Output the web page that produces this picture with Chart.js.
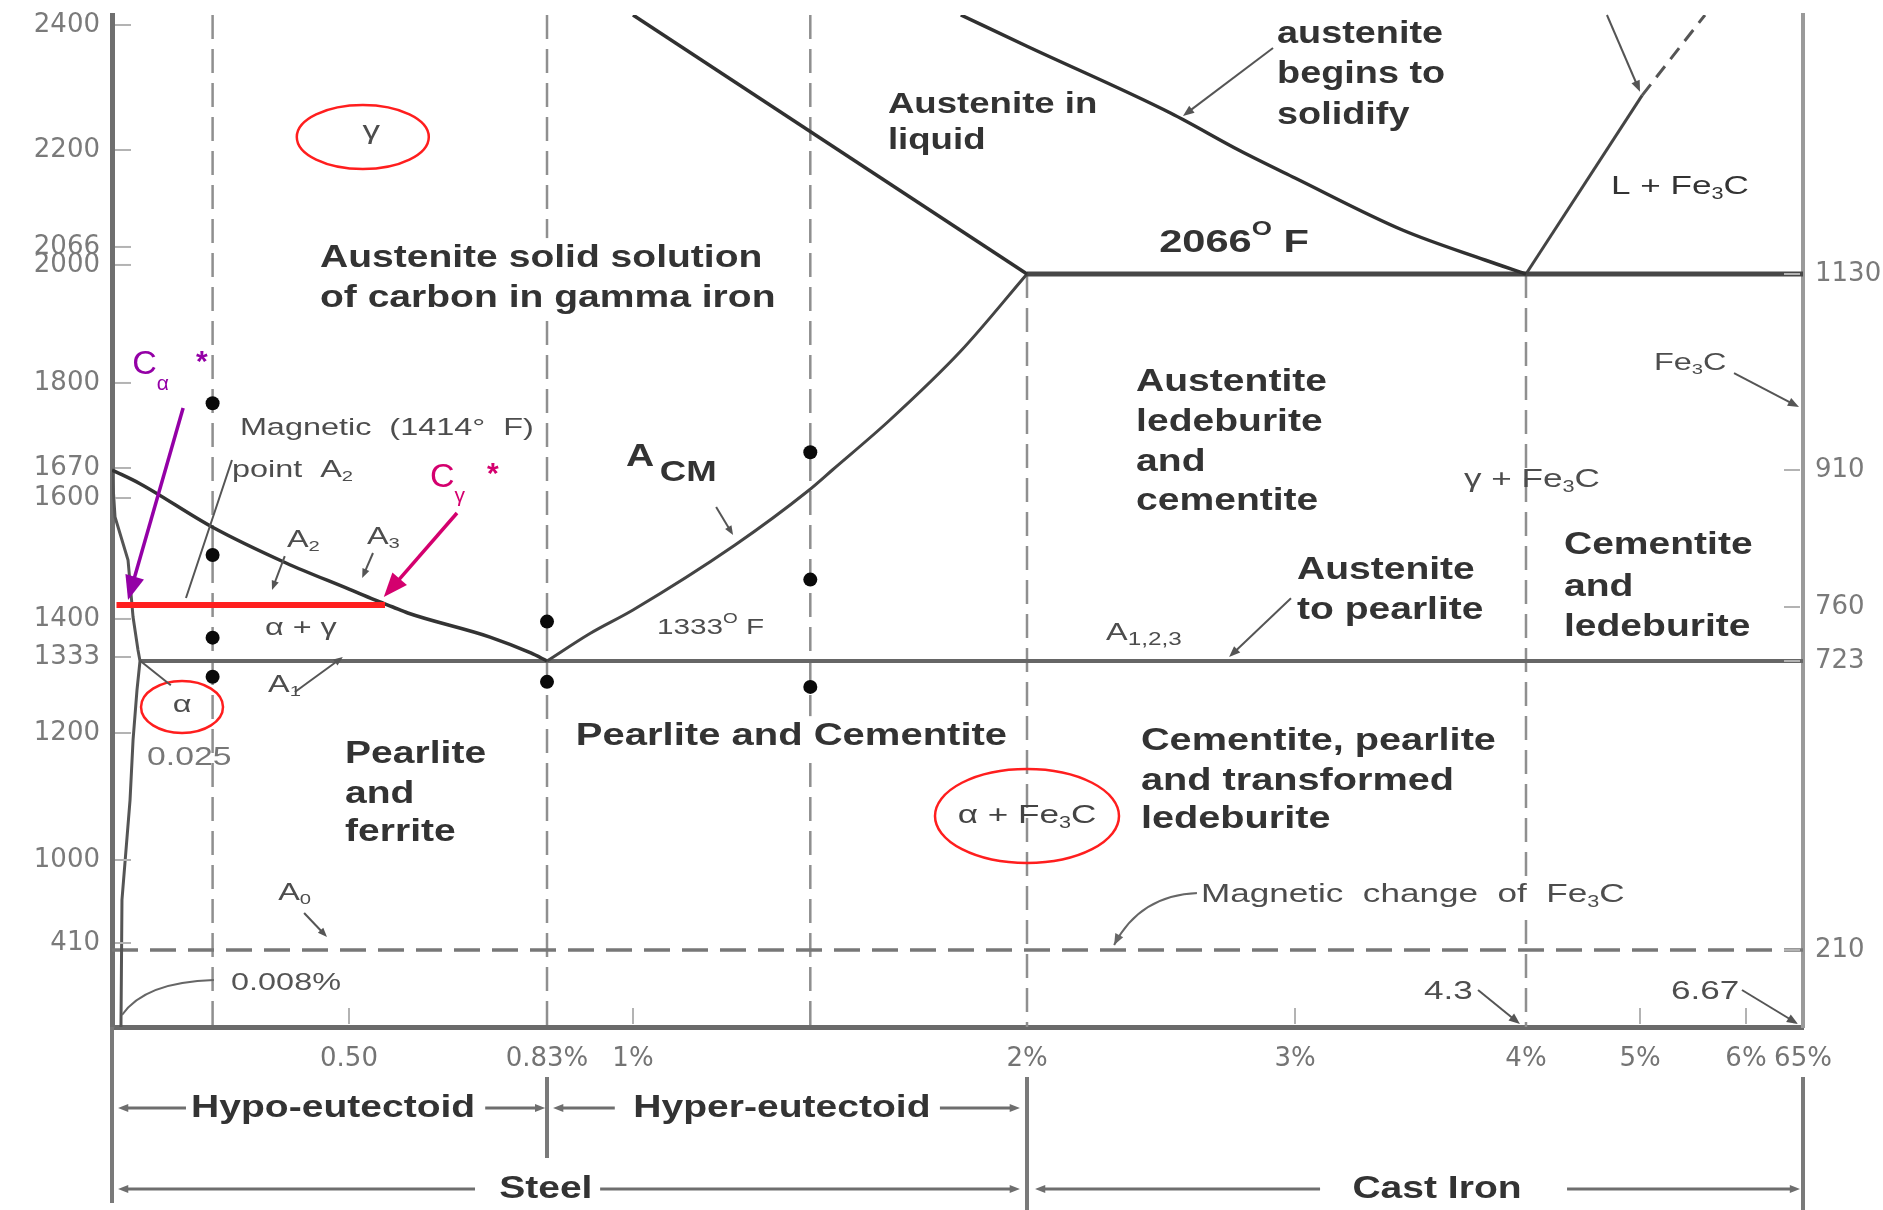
<!DOCTYPE html>
<html>
<head>
<meta charset="utf-8">
<title>Iron - carbon diagram</title>
<script src="https://cdn.jsdelivr.net/npm/chart.js@4.4.1/dist/chart.umd.min.js"></script>
<style>
  html, body { margin: 0; padding: 0; background: #fff; }
  #wrap { width: 1883px; height: 1210px; }
</style>
</head>
<body>
<div id="wrap"><canvas id="chartFe"></canvas></div>
<script>
// carbon in %, temperatures in °C (the left axis is °F)
const pctTicks = [0.5, 0.83, 1, 2, 3, 4.3, 5, 6, 6.67];
const pctLabels = ['0.50', '0.83%', '1%', '2%', '3%', '4%', '5%', '6%', '65%'];
const pctMinor = [0.5, 1, 3, 5, 6];
const fahrTicks = [410, 1000, 1200, 1333, 1400, 1600, 1670, 1800, 2000, 2066, 2200, 2400];
const celsTicks = [210, 723, 760, 910, 1130];
const roomC = 20;

// phase boundaries
const solidusPct = [1.0, 2];
const solidusC = [1420, 1130];
const liquidusPct = [1.832, 2, 2.537, 2.795, 3, 3.608, 4.069, 4.3];
const liquidusC = [1420, 1385, 1310, 1268, 1237.5, 1179, 1145.7, 1130];
const cementLiqPct = [4.3, 5.02];
const cementLiqC = [1130, 1330];
const cementLiqDashPct = [5.02, 5.613];
const cementLiqDashC = [1330, 1420];
const a3Pct = [0, 0.025, 0.189, 0.357, 0.5, 0.543, 0.573, 0.598, 0.735, 0.803, 0.83];
const a3C = [910, 895, 847.6, 808.2, 779.5, 767.7, 760, 755.9, 739.4, 728.5, 723];
const acmPct = [0.83, 0.915, 1, 1.259, 1.444, 1.506, 1.652, 1.832, 2];
const acmC = [723, 741.9, 758, 827.9, 887, 910, 966.1, 1043.5, 1130];
const ferritePct = [0, 0.0027, 0.0143, 0.0188, 0.0232, 0.025, 0.0223, 0.0188, 0.0161, 0.0089, 0.008];
const ferriteC = [910, 858.6, 811.5, 753.1, 730.5, 723, 671.5, 582.8, 476, 298.8, 20];

// horizontal reactions
const eutecticPct = [2, 6.67];
const eutecticC = [1130, 1130];
const eutectoidPct = [0.025, 6.67];
const eutectoidC = [723, 723];
const magneticPct = [0, 6.67];
const magneticC = [210, 210];
const a2Pct = [0.004, 0.56];
const a2F = [1414, 1414];

// composition lines and the sample points on them
const verticalPct = [0.19, 0.83, 1.45, 2, 4.3];
const verticalTop = [1420, 1420, 1420, 1130, 1130];
const dotPct = [0.19, 0.19, 0.19, 0.19, 0.83, 0.83, 1.45, 1.45, 1.45];
const dotC = [985, 817, 739, 695, 750, 686, 930, 790, 677];

// axis calibration: value -> fraction of the axis length
const KNOTS = {
  x: [[0, 0], [0.025, 0.01656], [0.5, 0.14015], [0.83, 0.25725], [1, 0.30810], [2, 0.54110],
      [3, 0.69959], [4.3, 0.83619], [5, 0.90361], [6, 0.96629], [6.67, 1]],
  yC: [[20, 0], [210, 0.07609], [723, 0.36166], [760, 0.41502], [910, 0.55040], [1130, 0.74407], [1420, 1]],
  yF: [[32, 0], [410, 0.0830], [1000, 0.1650], [1200, 0.2905], [1333, 0.3656], [1400, 0.4032],
       [1414, 0.4170], [1600, 0.5227], [1670, 0.5524], [1800, 0.6364], [2000, 0.7530],
       [2066, 0.7708], [2200, 0.8666], [2400, 0.9901], [2420, 1]]
};

function interp(k, v, from, to) {
  let i = 1;
  while (i < k.length - 1 && v > k[i][from]) i++;
  const a = k[i - 1], b = k[i];
  return a[to] + (v - a[from]) * (b[to] - a[to]) / (b[from] - a[from]);
}

class KnotScale extends Chart.LinearScale {
  static id = 'knot';
  static defaults = Chart.LinearScale.defaults;
  getPixelForValue(value) {
    if (value === null || value === undefined || isNaN(value)) return NaN;
    return this.getPixelForDecimal(interp(KNOTS[this.id], value, 0, 1));
  }
  getValueForPixel(pixel) {
    return interp(KNOTS[this.id], this.getDecimalForPixel(pixel), 1, 0);
  }
}
Chart.register(KnotScale);

const FONT = '"Liberation Sans", Arial, sans-serif';

// labels placed in (carbon %, °C)
const notes = [
  { x: 0.537, y: 1289, text: 'γ', size: 26, align: 'center' },
  { x: 0.1205, y: 645, text: 'α', size: 24, align: 'center' },
  { x: 2, y: 448, text: 'α + Fe_3C', size: 26, align: 'center', color: '#444' },
  { x: 0.434, y: 1148, text: 'Austenite solid solution', size: 32, bold: true, knock: true },
  { x: 0.434, y: 1103, text: 'of carbon in gamma iron', size: 32, bold: true, knock: true },
  { x: 1.647, y: 1319, text: 'Austenite in', size: 30, bold: true },
  { x: 1.647, y: 1279, text: 'liquid', size: 30, bold: true },
  { x: 2.933, y: 1397.7, text: 'austenite', size: 31, bold: true },
  { x: 2.933, y: 1352.9, text: 'begins to', size: 31, bold: true },
  { x: 2.933, y: 1308, text: 'solidify', size: 31, bold: true },
  { x: 2.493, y: 1164.7, text: '2066^O F', size: 32, bold: true, sx: 1.3 },
  { x: 4.822, y: 1227.4, text: 'L + Fe_3C', size: 26, color: '#333' },
  { x: 5.132, y: 1030, text: 'Fe_3C', size: 24 },
  { x: 2.407, y: 1008.7, text: 'Austentite', size: 32, bold: true },
  { x: 2.407, y: 963.9, text: 'ledeburite', size: 32, bold: true },
  { x: 2.407, y: 919, text: 'and', size: 32, bold: true },
  { x: 2.407, y: 876.1, text: 'cementite', size: 32, bold: true },
  { x: 3.951, y: 899, text: 'γ + Fe_3C', size: 26 },
  { x: 4.533, y: 827.9, text: 'Cementite', size: 32, bold: true },
  { x: 4.533, y: 781.9, text: 'and', size: 32, bold: true },
  { x: 4.533, y: 746.3, text: 'ledeburite', size: 32, bold: true },
  { x: 3.011, y: 800.5, text: 'Austenite', size: 32, bold: true },
  { x: 3.011, y: 757.9, text: 'to pearlite', size: 32, bold: true },
  { x: 2.295, y: 742.2, text: 'A_{1,2,3}', size: 24, ss: 0.75 },
  { x: 1.061, y: 745.6, text: '1333^O F', size: 22 },
  { x: 0.887, y: 589.9, text: 'Pearlite and Cementite', size: 32, bold: true, knock: true, sx: 1.25 },
  { x: 2.425, y: 581, text: 'Cementite, pearlite', size: 32, bold: true, sx: 1.24 },
  { x: 2.425, y: 510, text: 'and transformed', size: 32, bold: true, sx: 1.24 },
  { x: 2.425, y: 442.5, text: 'ledeburite', size: 32, bold: true, sx: 1.24 },
  { x: 0.491, y: 557.9, text: 'Pearlite', size: 32, bold: true },
  { x: 0.491, y: 486.9, text: 'and', size: 32, bold: true },
  { x: 0.491, y: 419.5, text: 'ferrite', size: 32, bold: true },
  { x: 0.309, y: 745.6, text: 'α + γ', size: 24 },
  { x: 0.316, y: 680.4, text: 'A_1', size: 24 },
  { x: 0.359, y: 833.4, text: 'A_2', size: 24 },
  { x: 0.53, y: 836.7, text: 'A_3', size: 24 },
  { x: 0.252, y: 957.1, text: 'Magnetic  (1414°  F)', size: 24 },
  { x: 0.234, y: 910, text: 'point  A_2', size: 24 },
  { x: 1.018, y: 924.6, text: 'A', size: 32, bold: true, align: 'center' },
  { x: 1.14, y: 906.7, text: 'CM', size: 30, bold: true, align: 'center' },
  { x: 0.041, y: 550.8, text: '0.025', size: 25, color: '#777' },
  { x: 0.232, y: 128.6, text: '0.008%', size: 24, color: '#555' },
  { x: 0.339, y: 311.2, text: 'A_0', size: 24 },
  { x: 2.649, y: 307.6, text: 'Magnetic  change  of  Fe_3C', size: 26, knock: true },
  { x: 3.726, y: 106.3, text: '4.3', size: 26 },
  { x: 5.292, y: 106.3, text: '6.67', size: 26 },
  { x: 0.018, y: 1027.8, text: 'C_α', size: 34, sx: 1, color: '#9400a6', sub: 0.55 },
  { x: 0.152, y: 1030, text: '*', size: 30, bold: true, sx: 1, color: '#9400a6' },
  { x: 0.635, y: 901.3, text: 'C_γ', size: 34, sx: 1, color: '#d4006e', sub: 0.55 },
  { x: 0.73, y: 905, text: '*', size: 30, bold: true, sx: 1, color: '#d4006e' }
];

const leaders = [
  { from: [2.918, 1383], to: [2.582, 1307], head: 12 },
  { from: [4.797, 1420], to: [5.0, 1334], head: 12 },
  { from: [5.887, 1018.8], to: [6.623, 980.7], head: 12 },
  { from: [2.985, 769.6], to: [2.754, 725.7], head: 12 },
  { from: [0.377, 668], to: [0.486, 725.7], head: 10 },
  { from: [0.354, 815.8], to: [0.325, 778.6], head: 10 },
  { from: [0.54, 819.1], to: [0.522, 791.8], head: 10 },
  { from: [0.234, 921.2], to: [0.1295, 769.9], head: 0 },
  { from: [1.211, 869.5], to: [1.254, 838.8], head: 10 },
  { from: [0.398, 275.7], to: [0.45, 233], head: 10 },
  { from: [4.03, 111.3], to: [4.266, 27.4], head: 12 },
  { from: [5.962, 111.3], to: [6.611, 27.4], head: 12 },
  { from: [0.026, 723], to: [0.095, 680], head: 0 },
  { from: [0.123, 979.6], to: [0.0143, 767.7], head: 26, width: 3.5, color: '#9400a6' },
  { from: [0.68, 862.9], to: [0.558, 771], head: 26, width: 3.5, color: '#d4006e' }
];
const bends = [
  { from: [0.0089, 49.6], via: [0.036, 131], to: [0.193, 136], head: 0 },
  { from: [2.638, 311.2], via: [2.422, 307.6], to: [2.325, 218.9], head: 12 }
];
const rings = [
  { x: 0.523, y: 1283.4, rx: 66, ry: 32 },
  { x: 0.1205, y: 641.3, rx: 41, ry: 26 },
  { x: 2, y: 447.9, rx: 92, ry: 47 }
];

// under the axis: frame extensions and the steel / cast iron brackets
const dividers = [[0, 0, 176], [0.83, 50, 131], [2, 50, 183], [6.67, 50, 183]];
const dims = [
  { row: 81, text: 'Hypo-eutectoid', at: 0.464, segs: [[0.1295, 0.0054], [0.727, 0.827]] },
  { row: 81, text: 'Hyper-eutectoid', at: 1.378, segs: [[0.964, 0.842], [1.779, 1.982]] },
  { row: 162, text: 'Steel', at: 0.828, segs: [[0.71, 0.0054], [0.935, 1.982]] },
  { row: 162, text: 'Cast Iron', at: 3.799, segs: [[3.141, 2.03], [4.552, 6.635]] }
];

function parseRich(s) {
  const out = [];
  let buf = '', i = 0;
  while (i < s.length) {
    const c = s[i];
    if (c === '_' || c === '^') {
      if (buf) { out.push({ t: buf, lvl: 0 }); buf = ''; }
      let t;
      if (s[i + 1] === '{') { const j = s.indexOf('}', i); t = s.slice(i + 2, j); i = j + 1; }
      else { t = s[i + 1]; i += 2; }
      out.push({ t, lvl: c === '_' ? 1 : -1 });
    } else { buf += c; i++; }
  }
  if (buf) out.push({ t: buf, lvl: 0 });
  return out;
}

function drawRich(ctx, n, x, y) {
  const size = n.size, sx = n.sx || (n.bold ? 1.22 : 1.35);
  const weight = n.bold ? 'bold ' : '';
  const parts = parseRich(n.text);
  let w = 0;
  parts.forEach(p => {
    p.size = p.lvl ? Math.round(size * (n.ss || 0.62)) : size;
    ctx.font = weight + p.size + 'px ' + FONT;
    p.w = ctx.measureText(p.t).width * sx;
    w += p.w;
  });
  let x0 = n.align === 'center' ? x - w / 2 : n.align === 'right' ? x - w : x;
  if (n.knock) {
    ctx.fillStyle = '#fff';
    ctx.fillRect(x0 - 4, y - size * 0.62, w + 8, size * 1.24);
  }
  ctx.fillStyle = n.color || (n.bold ? '#333' : '#4d4d4d');
  ctx.textAlign = 'left';
  ctx.textBaseline = 'middle';
  parts.forEach(p => {
    const dy = p.lvl > 0 ? size * (n.sub || 0.3) : p.lvl < 0 ? -size * 0.42 : 0;
    ctx.font = weight + p.size + 'px ' + FONT;
    ctx.save();
    ctx.translate(x0, y + dy);
    ctx.scale(sx, 1);
    ctx.fillText(p.t, 0, 0);
    ctx.restore();
    x0 += p.w;
  });
}

function seg(ctx, x1, y1, x2, y2) {
  ctx.beginPath(); ctx.moveTo(x1, y1); ctx.lineTo(x2, y2); ctx.stroke();
}

function head(ctx, x2, y2, a, len) {
  ctx.beginPath();
  ctx.moveTo(x2, y2);
  ctx.lineTo(x2 - len * Math.cos(a - 0.38), y2 - len * Math.sin(a - 0.38));
  ctx.lineTo(x2 - len * Math.cos(a + 0.38), y2 - len * Math.sin(a + 0.38));
  ctx.closePath();
  ctx.fill();
}

function arrow(ctx, x1, y1, x2, y2, len) {
  const a = Math.atan2(y2 - y1, x2 - x1);
  const back = len ? len * 0.8 : 0;
  seg(ctx, x1, y1, x2 - back * Math.cos(a), y2 - back * Math.sin(a));
  if (len) head(ctx, x2, y2, a, len);
}

const annotate = {
  id: 'annotate',
  afterDatasetsDraw(chart) {
    const { ctx, chartArea: area } = chart;
    const sx = chart.scales.x, sc = chart.scales.yC, sf = chart.scales.yF;
    const X = v => sx.getPixelForValue(v);
    const Y = v => sc.getPixelForValue(v);
    ctx.save();

    // short tick marks on the inner side of the frame
    ctx.strokeStyle = '#b3b3b3';
    ctx.lineWidth = 2;
    fahrTicks.forEach(v => { const p = sf.getPixelForValue(v); seg(ctx, area.left + 3, p, area.left + 19, p); });
    celsTicks.forEach(v => { const p = Y(v); seg(ctx, area.right - 19, p, area.right - 3, p); });
    pctMinor.forEach(v => seg(ctx, X(v), area.bottom - 3, X(v), area.bottom - 19));

    // red rings round the phase symbols
    ctx.strokeStyle = '#ff1e1e';
    ctx.lineWidth = 2.5;
    rings.forEach(r => {
      ctx.beginPath();
      ctx.ellipse(X(r.x), Y(r.y), r.rx, r.ry, 0, 0, Math.PI * 2);
      ctx.stroke();
    });

    // leader lines
    leaders.forEach(l => {
      ctx.strokeStyle = ctx.fillStyle = l.color || '#555';
      ctx.lineWidth = l.width || 2;
      arrow(ctx, X(l.from[0]), Y(l.from[1]), X(l.to[0]), Y(l.to[1]), l.head);
    });
    bends.forEach(b => {
      const x1 = X(b.from[0]), y1 = Y(b.from[1]), cx = X(b.via[0]), cy = Y(b.via[1]);
      const x2 = X(b.to[0]), y2 = Y(b.to[1]);
      ctx.strokeStyle = ctx.fillStyle = '#666';
      ctx.lineWidth = 2;
      ctx.beginPath(); ctx.moveTo(x1, y1); ctx.quadraticCurveTo(cx, cy, x2, y2); ctx.stroke();
      if (b.head) head(ctx, x2, y2, Math.atan2(y2 - cy, x2 - cx), b.head);
    });

    notes.forEach(n => drawRich(ctx, n, X(n.x), Y(n.y)));

    // frame extensions and brackets under the axis
    ctx.strokeStyle = '#7a7a7a';
    ctx.lineWidth = 4;
    dividers.forEach(d => seg(ctx, X(d[0]), area.bottom + d[1], X(d[0]), area.bottom + d[2]));
    dims.forEach(d => {
      const y = area.bottom + d.row;
      ctx.strokeStyle = ctx.fillStyle = '#6e6e6e';
      ctx.lineWidth = 3;
      d.segs.forEach(s => arrow(ctx, X(s[0]), y, X(s[1]), y, 11));
      drawRich(ctx, { text: d.text, size: 32, bold: true, align: 'center' }, X(d.at), y);
    });
    ctx.restore();
  }
};

const pts = (xs, ys) => xs.map((x, i) => ({ x, y: ys[i] }));

function curve(xs, ys, color, width, extra) {
  return Object.assign({
    data: pts(xs, ys), showLine: true, borderColor: color, borderWidth: width,
    pointRadius: 0, fill: false, yAxisID: 'yC'
  }, extra || {});
}

const smooth = { cubicInterpolationMode: 'monotone' };

const datasets = [
  { data: pts(dotPct, dotC), showLine: false, pointRadius: 7, pointBackgroundColor: '#0a0a0a',
    pointBorderWidth: 0, yAxisID: 'yC' },
  curve(a2Pct, a2F, '#ff1f1f', 6, { yAxisID: 'yF' }),
  curve(solidusPct, solidusC, '#303030', 3.5),
  curve(liquidusPct, liquidusC, '#303030', 3.5, smooth),
  curve(cementLiqPct, cementLiqC, '#444', 3),
  curve(cementLiqDashPct, cementLiqDashC, '#555', 3, { borderDash: [14, 9] }),
  curve(acmPct, acmC, '#444', 3, smooth),
  curve(a3Pct, a3C, '#333', 3.5, smooth),
  curve(ferritePct, ferriteC, '#555', 3),
  curve(eutecticPct, eutecticC, '#474747', 5),
  curve(eutectoidPct, eutectoidC, '#666', 4),
  curve(magneticPct, magneticC, '#777', 3.5, { borderDash: [26, 12] }),
  ...verticalPct.map((p, i) => curve([p, p], [verticalTop[i], roomC], '#8f8f8f', 2.5, { borderDash: [24, 10] }))
];

const tickFont = { family: '"DejaVu Sans", sans-serif', size: 26 };

// keep the plot frame where the layout puts it, whatever the tick labels need
function noPadding(s) {
  s.paddingTop = 0; s.paddingBottom = 0; s.paddingLeft = 0; s.paddingRight = 0;
}

new Chart(document.getElementById('chartFe'), {
  type: 'scatter',
  data: { datasets },
  options: {
    responsive: true,
    maintainAspectRatio: false,
    animation: false,
    events: [],
    layout: { padding: { top: 15, left: 0, right: 0, bottom: 0 } },
    plugins: { legend: { display: false }, tooltip: { enabled: false } },
    scales: {
      x: {
        type: 'knot', position: 'bottom', min: 0, max: 6.67,
        afterFit: s => { s.height = 183; noPadding(s); },
        afterBuildTicks: s => { s.ticks = pctTicks.map(v => ({ value: v })); },
        ticks: { autoSkip: false, maxRotation: 0, padding: 17, color: '#747474', font: tickFont,
                 callback: (v, i) => pctLabels[i] },
        grid: { display: false, drawTicks: false },
        border: { display: true, color: '#6a6a6a', width: 5 }
      },
      yF: {
        type: 'knot', position: 'left', min: 32, max: 2420,
        afterFit: s => { s.width = 112; noPadding(s); },
        afterBuildTicks: s => { s.ticks = fahrTicks.map(v => ({ value: v })); },
        ticks: { autoSkip: false, padding: 12, color: '#7a7a7a', font: tickFont,
                 callback: v => String(v) },
        grid: { display: false, drawTicks: false },
        border: { display: true, color: '#6f6f6f', width: 5 }
      },
      yC: {
        type: 'knot', position: 'right', min: 20, max: 1420,
        afterFit: s => { s.width = 80; noPadding(s); },
        afterBuildTicks: s => { s.ticks = celsTicks.map(v => ({ value: v })); },
        ticks: { autoSkip: false, padding: 12, color: '#7a7a7a', font: tickFont,
                 callback: v => String(v) },
        grid: { display: false, drawTicks: false },
        border: { display: true, color: '#9a9a9a', width: 4 }
      }
    }
  },
  plugins: [annotate]
});
</script>
</body>
</html>
